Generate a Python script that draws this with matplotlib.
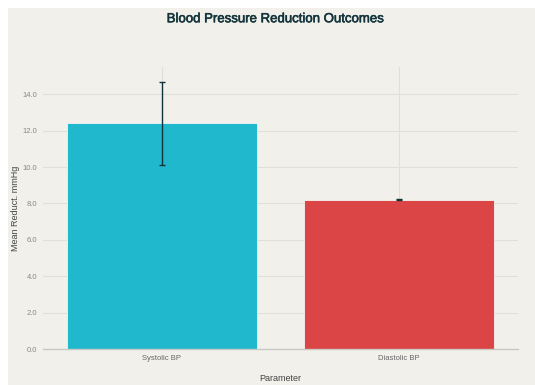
import matplotlib.pyplot as plt
import matplotlib.patheffects as pe
from matplotlib.patches import Rectangle

categories = ["Systolic BP", "Diastolic BP"]
means = [12.4, 8.2]
errors = [2.3, 0.03]
colors = ["#1FB8CD", "#DB4545"]
yticks = [0, 2, 4, 6, 8, 10, 12, 14]

plt.rcParams['font.family'] = ['Liberation Sans', 'DejaVu Sans']
bg = "#f1f0eb"

fig = plt.figure(figsize=(5.35, 3.85), dpi=100, facecolor="white")
# beige background with thin white margin top/left
fig.patches.append(Rectangle((8/535, 0), 1, 1 - 8/385, transform=fig.transFigure,
                             facecolor=bg, edgecolor="none", zorder=-10))
ax = fig.add_axes([43/535, 36/385, 475/535, 282/385])
ax.set_facecolor(bg)

x = range(len(categories))
ax.bar(x, means, width=0.8, color=colors, edgecolor="#f4f4f4", linewidth=0.6, zorder=3)
ax.errorbar(x, means, yerr=errors, fmt="none", ecolor="#13343B", elinewidth=1.0,
            capsize=2, capthick=1.0, zorder=4)

ax.set_xlim(-0.5, 1.5)
ax.set_ylim(0, 15.5)
ax.set_xticks(list(x))
ax.set_xticklabels(categories, fontsize=5.5, color="#666666")
ax.set_yticks(yticks)
ax.set_yticklabels(["%.1f" % v for v in yticks], fontsize=5.5, color="#888888")
ax.tick_params(axis="both", length=0, pad=4)
ax.grid(True, color="#e0e0da", linewidth=0.8, zorder=0)
for s in ["top", "right", "left"]:
    ax.spines[s].set_visible(False)
ax.spines["bottom"].set_color("#c8c8c4")
ax.spines["bottom"].set_linewidth(1.0)
ax.spines["bottom"].set_zorder(5)

ax.set_ylabel("Mean Reduct. mmHg", fontsize=6.5, color="#444444", labelpad=2)
ax.set_xlabel("Parameter", fontsize=6.5, color="#444444", labelpad=9)
fig.text(0.515, 0.95, "Blood Pressure Reduction Outcomes", ha="center", va="center",
         fontsize=9.5, color="#13343B",
         path_effects=[pe.withStroke(linewidth=0.4, foreground="#13343B")])

fig.savefig("out.png", dpi=100, facecolor=fig.get_facecolor())
